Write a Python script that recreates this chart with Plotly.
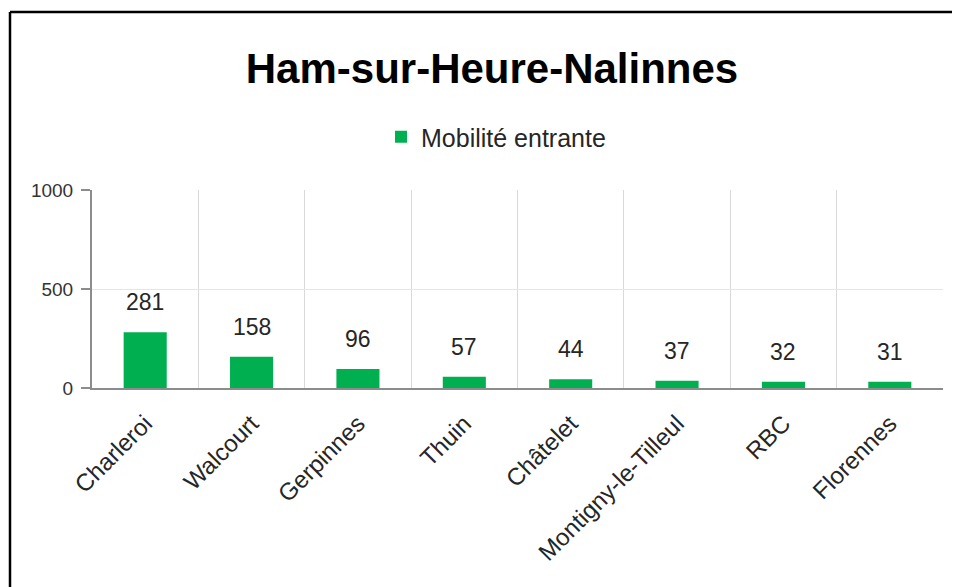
import plotly.graph_objects as go

categories = ["Charleroi", "Walcourt", "Gerpinnes", "Thuin", "Châtelet",
              "Montigny-le-Tilleul", "RBC", "Florennes"]
values = [281, 158, 96, 57, 44, 37, 32, 31]
series_name = "Mobilité entrante"
title_text = "Ham-sur-Heure-Nalinnes"
y_ticks = [0, 500, 1000]

W, H = 960, 587
OFF = 8  # page body margin offset
# target plot area in viewport pixels
PL, PR, PT, PB = 92, 943, 190, 388
L = PL - OFF
T = PT - OFF
R = W - (PR - OFF)
B = H - (PB - OFF)
pw, ph = W - L - R, H - T - B

def px_x(p):
    return (p - OFF - L) / pw

def px_y(p):
    return (H - B - (p - OFF)) / ph

FONT = "Liberation Sans, Arial, sans-serif"
GREEN = "#00B050"

fig = go.Figure()
fig.add_trace(go.Bar(
    x=categories, y=values, name=series_name,
    marker=dict(color=GREEN, line=dict(width=0)),
    showlegend=True,
))

annotations = []
for c, v in zip(categories, values):
    annotations.append(dict(
        x=c, y=v, xref="x", yref="y", text=str(v), showarrow=False,
        yanchor="bottom", yshift=15,
        font=dict(family=FONT, size=23, color="#262626"),
    ))

shapes = [
    dict(type="line", xref="paper", yref="paper",
         x0=px_x(10), x1=px_x(970), y0=px_y(12), y1=px_y(12),
         line=dict(color="black", width=2.5)),
    dict(type="line", xref="paper", yref="paper",
         x0=px_x(10), x1=px_x(10), y0=px_y(12), y1=px_y(600),
         line=dict(color="black", width=2.5)),
]

fig.update_layout(
    width=W, height=H,
    margin=dict(l=L, r=R, t=T, b=B, autoexpand=False),
    paper_bgcolor="white", plot_bgcolor="white",
    title=dict(text=f"<b>{title_text}</b>", x=(492 - OFF) / W,
               xanchor="center", y=1 - (68 - OFF) / H, yanchor="middle",
               font=dict(family=FONT, size=42, color="black")),
    legend=dict(orientation="h", x=px_x(496), xanchor="center",
                y=px_y(137), yanchor="middle",
                font=dict(family=FONT, size=25, color="#262626"),
                itemwidth=30, bgcolor="rgba(0,0,0,0)"),
    bargap=0.595,
    annotations=annotations,
    shapes=shapes,
    xaxis=dict(
        type="category", tickangle=-45, tickson="boundaries",
        showgrid=True, gridcolor="#d9d9d9", gridwidth=1,
        showline=True, linecolor="#8c8c8c", linewidth=2,
        ticks="", ticklabelstandoff=10,
        tickfont=dict(family=FONT, size=24, color="#262626"),
        mirror=False,
    ),
    yaxis=dict(
        range=[0, 1000], tickvals=y_ticks, ticktext=[str(t) for t in y_ticks],
        showgrid=True, gridcolor="#e6e6e6", gridwidth=1,
        showline=True, linecolor="#8c8c8c", linewidth=2,
        ticks="outside", ticklen=9, tickcolor="#8c8c8c", tickwidth=2,
        ticklabelstandoff=4,
        tickfont=dict(family=FONT, size=19, color="#333333"),
        zeroline=False,
    ),
)

fig.write_html("out.html")
